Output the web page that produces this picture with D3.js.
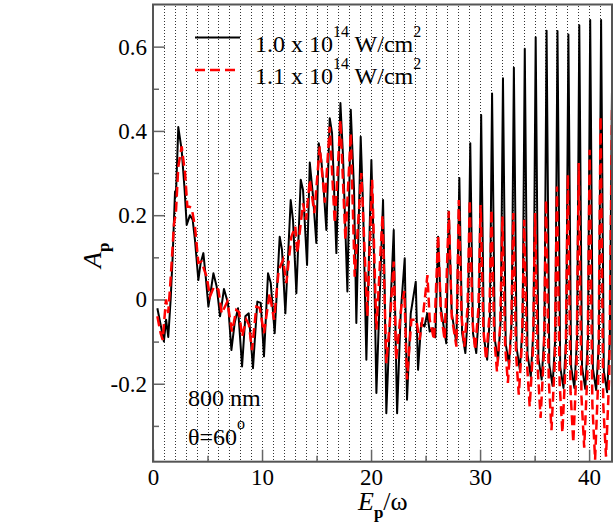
<!DOCTYPE html>
<html>
<head>
<meta charset="utf-8">
<script src="https://d3js.org/d3.v7.min.js"></script>
<style>
  body { margin: 0; background: #fff; }
  svg { display: block; }
  text { font-family: "Liberation Serif", "Times New Roman", serif; fill: #000; }
</style>
</head>
<body>
<svg id="chart" width="614" height="526"></svg>
<script>
// -------- data (E_p/omega, A_p) --------
var black_pts = [
  [0.4,-0.021],[0.7,-0.06],[1.0,-0.10],[1.2,-0.048],[1.4,-0.089],[1.62,0.0],[1.8,0.10],
  [2.02,0.256],[2.1,0.244],[2.32,0.409],[2.63,0.355],[2.9,0.26],[3.09,0.177],[3.39,0.20],
  [3.64,0.189],[3.85,0.141],[4.16,0.046],[4.37,0.086],[4.62,0.11],[4.85,0.05],[5.08,-0.017],
  [5.3,0.02],[5.54,0.062],[5.84,0.031],[6.15,-0.04],[6.51,0.025],[6.88,-0.009],[7.19,-0.12],
  [7.49,-0.056],[7.8,-0.021],[8.17,-0.159],[8.47,-0.04],[8.78,-0.033],[9.17,-0.163],
  [9.57,-0.005],[9.88,-0.008],[10.18,-0.135],[10.55,0.062],[10.8,0.039],[11.16,-0.08],
  [11.62,0.149],[11.83,0.118],[12.14,-0.033],[12.63,0.236],[12.84,0.189],[13.15,0.015],
  [13.55,0.284],[13.76,0.26],[14.13,0.082],[14.38,0.325],[14.68,0.244],[14.98,0.134],
  [15.2,0.371],[15.44,0.331],[15.66,0.26],[15.9,0.165],[16.21,0.43],[16.42,0.395],
  [16.82,0.11],[17.19,0.466],[17.43,0.339],[17.83,0.019],[18.14,0.45],[18.44,0.26],
  [18.65,-0.056],[19.05,0.386],[19.27,0.22],[19.57,-0.143],[20.03,0.331],[20.27,0.102],
  [20.49,-0.222],[21.1,0.236],[21.25,0.023],[21.4,-0.27],[21.72,-0.056],[22.08,0.165],
  [22.2,-0.017],[22.39,-0.27],[22.72,-0.032],[23.09,0.098],[23.3,-0.238],[23.64,-0.033],
  [24.1,0.042],[24.31,-0.167],[24.6,-0.056],[24.9,-0.064],[25.15,-0.033],[25.38,-0.076],
  [25.68,-0.068],[25.9,-0.09],[26.15,0.149],[26.4,-0.02],[26.9,-0.104],[27.13,0.209],
  [27.4,-0.032],[27.83,-0.104],
  [28.1,0.288],[28.35,-0.08],[28.65,-0.127],[28.9,-0.03],
  [29.1,0.371],[29.35,-0.08],[29.65,-0.127],[29.9,-0.03],
  [30.1,0.438],[30.35,-0.09],[30.65,-0.143],[30.9,-0.04],
  [31.1,0.489],[31.35,-0.095],[31.65,-0.145],[31.9,-0.045],
  [32.1,0.525],[32.35,-0.105],[32.65,-0.155],[32.9,-0.05],
  [33.1,0.55],[33.35,-0.115],[33.65,-0.167],[33.9,-0.06],
  [34.1,0.595],[34.35,-0.13],[34.65,-0.183],[34.9,-0.07],
  [35.1,0.622],[35.35,-0.14],[35.65,-0.19],[35.9,-0.08],
  [36.1,0.638],[36.35,-0.155],[36.65,-0.205],[36.9,-0.09],
  [37.1,0.637],[37.35,-0.16],[37.65,-0.21],[37.9,-0.09],
  [38.1,0.629],[38.35,-0.16],[38.65,-0.21],[38.9,-0.09],
  [39.1,0.651],[39.35,-0.16],[39.65,-0.212],[39.9,-0.09],
  [40.1,0.663],[40.35,-0.165],[40.65,-0.215],[40.9,-0.1],
  [41.1,0.663],[41.35,-0.17],[41.65,-0.22],[41.9,-0.1],
  [42.1,0.5]
];

var red_pts = [
  [0.4,-0.04],[0.7,-0.08],[0.89,-0.096],[1.19,0.0],[1.4,-0.032],[1.62,0.05],[1.93,0.18],
  [2.1,0.205],[2.32,0.315],[2.63,0.363],[2.94,0.30],[3.15,0.22],[3.35,0.22],[3.55,0.217],
  [3.85,0.173],[4.16,0.087],[4.46,0.09],[4.7,0.07],[4.92,0.054],[5.23,0.007],[5.6,0.031],
  [6.0,0.023],[6.3,-0.033],[6.82,-0.005],[7.03,-0.04],[7.25,-0.076],[7.64,-0.025],
  [7.9,-0.03],[8.17,-0.088],[8.56,-0.048],[8.8,-0.06],[9.08,-0.12],[9.48,-0.017],
  [9.79,-0.02],[10.18,-0.08],[10.7,0.015],[11.1,-0.048],[11.53,0.07],[11.93,0.094],
  [12.23,0.039],[12.69,0.149],[13.05,0.173],[13.24,0.11],[13.76,0.228],[14.04,0.189],
  [14.38,0.284],[14.8,0.205],[15.29,0.363],[15.76,0.23],[16.21,0.41],[16.67,0.181],
  [17.19,0.426],[17.65,0.141],[18.14,0.395],[18.5,0.054],[19.11,0.30],[19.66,-0.04],
  [20.1,0.284],[20.49,-0.072],[21.05,0.2],[21.4,-0.151],[21.72,-0.056],[22.08,0.09],
  [22.3,-0.143],[22.78,-0.017],[23.05,0.02],[23.3,-0.19],[23.7,-0.048],[24.15,-0.048],
  [24.45,-0.096],[24.8,-0.03],[25.17,0.058],[25.38,-0.048],[25.78,-0.096],[26.15,0.153],
  [26.4,-0.03],[26.75,-0.096],[27.13,0.209],[27.4,-0.04],[27.83,-0.112],
  [28.05,0.236],[28.3,-0.04],[28.55,-0.112],[28.85,-0.02],
  [29.05,0.236],[29.3,-0.05],[29.55,-0.12],[29.85,-0.02],
  [30.05,0.224],[30.3,-0.07],[30.55,-0.143],[30.85,-0.04],
  [31.05,0.213],[31.3,-0.09],[31.55,-0.171],[31.85,-0.06],
  [32.05,0.197],[32.3,-0.11],[32.55,-0.198],[32.85,-0.08],
  [33.05,0.205],[33.3,-0.13],[33.55,-0.226],[33.85,-0.1],
  [34.05,0.189],[34.3,-0.15],[34.55,-0.254],[34.85,-0.12],
  [35.05,0.205],[35.3,-0.17],[35.55,-0.281],[35.85,-0.13],
  [36.05,0.236],[36.3,-0.19],[36.55,-0.31],[36.85,-0.15],
  [37.05,0.268],[37.3,-0.2],[37.55,-0.316],[37.85,-0.15],
  [38.05,0.296],[38.3,-0.22],[38.55,-0.34],[38.85,-0.16],
  [39.05,0.324],[39.3,-0.23],[39.55,-0.352],[39.85,-0.17],
  [40.05,0.355],[40.3,-0.25],[40.55,-0.38],[40.85,-0.18],
  [41.05,0.434],[41.3,-0.25],[41.55,-0.373],[41.85,-0.18],
  [42.1,0.45]
];

var x_major = [0, 10, 20, 30, 40];
var x_minor = [5, 15, 25, 35];
var y_major = [-0.2, 0, 0.2, 0.4, 0.6];
var y_minor = [-0.3, -0.1, 0.1, 0.3, 0.5];
var legend_labels = ["1.0", "1.1"];
var photon_lines = d3.range(1, 42);   // dotted lines at each photon order

// -------- frame --------
var svg = d3.select("#chart");
var margin = { left: 153, right: 612, top: 4.5, bottom: 461.7 };

var xScale = d3.scaleLinear().domain([0, 42.1]).range([margin.left, margin.right]);
var yScale = d3.scaleLinear().domain([-0.385, 0.7]).range([margin.bottom, margin.top]);

svg.append("clipPath").attr("id", "clip")
  .append("rect")
    .attr("x", margin.left).attr("y", margin.top)
    .attr("width", margin.right - margin.left)
    .attr("height", margin.bottom - margin.top);

// dotted vertical lines, snapped to the pixel grid so the dots stay crisp
svg.append("g").selectAll("line")
    .data(photon_lines)
  .enter().append("line")
    .attr("x1", function(d) { return Math.round(xScale(d)) + 0.5; })
    .attr("x2", function(d) { return Math.round(xScale(d)) + 0.5; })
    .attr("y1", 6)
    .attr("y2", margin.bottom)
    .style("stroke", "#333")
    .style("stroke-width", 1)
    .style("stroke-dasharray", "1,2");

// -------- curves --------
var line = d3.line()
    .x(function(d) { return xScale(d[0]); })
    .y(function(d) { return yScale(d[1]); });

var plot_g = svg.append("g").attr("clip-path", "url(#clip)");

plot_g.append("path")
    .datum(black_pts)
    .attr("d", line)
    .style("fill", "none")
    .style("stroke", "#000")
    .style("stroke-width", 2)
    .style("stroke-linejoin", "round");

plot_g.append("path")
    .datum(red_pts)
    .attr("d", line)
    .style("fill", "none")
    .style("stroke", "#ff0000")
    .style("stroke-width", 2.5)
    .style("stroke-dasharray", "10,5");

// -------- axes --------
function styleAxis(g) {
  g.select(".domain").remove();
  g.selectAll(".tick line").style("stroke", "#666").style("stroke-width", 1.5);
  g.selectAll(".tick text").style("font-size", "23px")
    .style("font-family", "'Liberation Serif', 'Times New Roman', serif");
}

svg.append("g")
    .attr("transform", "translate(0," + margin.bottom + ")")
    .call(d3.axisBottom(xScale).tickValues(x_major).tickSize(-12).tickPadding(7)
          .tickFormat(d3.format("d")))
    .call(styleAxis);

svg.append("g")
    .attr("transform", "translate(0," + margin.bottom + ")")
    .call(d3.axisBottom(xScale).tickValues(x_minor).tickSize(-6).tickFormat(""))
    .call(styleAxis);

// plain hyphen for negatives, as in the original figure
svg.append("g")
    .attr("transform", "translate(" + margin.left + ",0)")
    .call(d3.axisLeft(yScale).tickValues(y_major).tickSize(-12).tickPadding(6)
          .tickFormat(function(d) { return d === 0 ? "0" : d.toFixed(1); }))
    .call(styleAxis);

svg.append("g")
    .attr("transform", "translate(" + margin.left + ",0)")
    .call(d3.axisLeft(yScale).tickValues(y_minor).tickSize(-6).tickFormat(""))
    .call(styleAxis);

svg.append("rect")
    .attr("x", margin.left).attr("y", margin.top)
    .attr("width", margin.right - margin.left)
    .attr("height", margin.bottom - margin.top)
    .style("fill", "none")
    .style("stroke", "#555")
    .style("stroke-width", 2);

// -------- axis titles --------
var xt = svg.append("text").attr("x", 358).attr("y", 510).style("font-size", "26px");
xt.append("tspan").style("font-style", "italic").text("E");
xt.append("tspan").style("font-weight", "bold").style("font-size", "17px").attr("dy", 8).text("p");
xt.append("tspan").attr("dy", -8).text("/ω");

var yt = svg.append("text")
    .attr("transform", "translate(101,268) rotate(-90)")
    .style("font-size", "26px");
yt.append("tspan").style("font-style", "italic").text("A");
yt.append("tspan").style("font-weight", "bold").style("font-size", "17px").attr("dy", 8).text("p");

// -------- legend --------
var legend_style = [
  { y: 37.5, color: "#000", dash: null, w: 2 },
  { y: 70, color: "#ff0000", dash: "10,5", w: 2.5 }
];

legend_style.forEach(function(d, i) {
  svg.append("line")
      .attr("x1", 195).attr("x2", 240)
      .attr("y1", d.y).attr("y2", d.y)
      .style("stroke", d.color)
      .style("stroke-width", d.w)
      .style("stroke-dasharray", d.dash);
  var t = svg.append("text").attr("x", 255).attr("y", d.y + 14)
      .style("font-size", "24px").style("white-space", "pre");
  t.append("tspan").text(legend_labels[i] + " x 10");
  t.append("tspan").style("font-size", "16px").attr("dy", -15).text("14");
  t.append("tspan").attr("dy", 15).text(" W/cm");
  t.append("tspan").style("font-size", "16px").attr("dy", -15).text("2");
});

// -------- annotations --------
svg.append("text").attr("x", 188).attr("y", 406).style("font-size", "24px").text("800 nm");
var th = svg.append("text").attr("x", 188).attr("y", 445).style("font-size", "24px");
th.append("tspan").text("θ=60");
th.append("tspan").style("font-size", "16px").attr("dy", -16).text("o");
</script>
</body>
</html>
